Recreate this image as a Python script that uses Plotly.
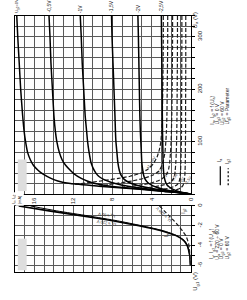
import plotly.graph_objects as go

# ---------------- data ----------------
top_labels = ["U<sub>g1</sub>=0V", "-0,5V", "-1V", "-1,5V", "-2V", "-2,5V"]

# Upper chart: Ia = f(Ua), parameter Ug1 (solid)
ua_a0 = [340, 300, 250, 200, 150, 120, 100, 80, 65, 55, 45, 38, 30, 25, 20, 15, 11, 7, 3, 0]
ia_a0 = [17.8, 17.7, 17.55, 17.4, 17.2, 17.05, 16.9, 16.7, 16.4, 16.1, 15.6, 15.1, 14.3, 13.6, 12.3, 9.4, 6.6, 3.8, 1.3, 0]
ua_a1 = [340, 300, 250, 200, 150, 120, 100, 80, 65, 55, 45, 38, 30, 25, 20, 15, 11, 7, 3, 0]
ia_a1 = [14.5, 14.4, 14.3, 14.15, 14.0, 13.85, 13.7, 13.45, 13.15, 12.8, 12.3, 11.9, 11.2, 10.6, 9.8, 8.2, 6.0, 3.5, 1.2, 0]
ua_a2 = [340, 300, 250, 200, 150, 120, 100, 80, 60, 50, 40, 33, 27, 22, 17, 13, 9, 5, 2, 0]
ia_a2 = [11.3, 11.2, 11.1, 10.95, 10.8, 10.65, 10.55, 10.4, 10.2, 10.0, 9.7, 9.35, 8.8, 8.1, 7.0, 5.7, 4.2, 2.4, 0.9, 0]
ua_a3 = [340, 300, 250, 200, 150, 120, 100, 80, 60, 45, 35, 28, 22, 17, 13, 9, 6, 3, 0]
ia_a3 = [8.1, 8.05, 7.95, 7.85, 7.75, 7.7, 7.65, 7.55, 7.45, 7.3, 7.1, 6.8, 6.3, 5.5, 4.6, 3.5, 2.4, 1.2, 0]
ua_a4 = [340, 300, 250, 200, 150, 120, 100, 80, 60, 45, 35, 28, 22, 17, 13, 9, 6, 3, 0]
ia_a4 = [5.4, 5.35, 5.3, 5.25, 5.2, 5.15, 5.1, 5.05, 5.0, 4.9, 4.8, 4.65, 4.4, 4.0, 3.5, 2.8, 2.0, 1.0, 0]
ua_a5 = [340, 300, 250, 200, 150, 120, 100, 80, 60, 45, 35, 28, 22, 17, 13, 9, 6, 3, 0]
ia_a5 = [3.0, 2.98, 2.95, 2.92, 2.9, 2.88, 2.86, 2.84, 2.82, 2.78, 2.73, 2.65, 2.55, 2.4, 2.15, 1.8, 1.4, 0.8, 0]

# Upper chart: Ig2 = f(Ua), parameter Ug1 (dashed)
ua_g0 = [340, 300, 250, 200, 150, 120, 100, 85, 70, 57, 48, 40, 34, 30, 26, 22, 18]
ig_g0 = [2.8, 2.8, 2.82, 2.85, 2.9, 2.97, 3.05, 3.2, 3.45, 3.85, 4.35, 5.1, 6.2, 7.4, 8.8, 10.4, 12.0]
ua_g1 = [340, 300, 250, 200, 150, 120, 100, 80, 65, 52, 43, 36, 30, 25, 21, 18, 15]
ig_g1 = [2.35, 2.35, 2.37, 2.4, 2.43, 2.48, 2.54, 2.63, 2.78, 3.0, 3.3, 3.9, 4.8, 6.0, 7.4, 8.4, 9.4]
ua_g2 = [340, 300, 250, 200, 150, 120, 100, 80, 60, 48, 40, 34, 29, 25, 21, 18, 15, 13]
ig_g2 = [1.85, 1.85, 1.87, 1.9, 1.93, 1.97, 2.0, 2.06, 2.15, 2.25, 2.4, 2.6, 2.95, 3.4, 4.1, 4.9, 6.1, 7.0]
ua_g3 = [340, 300, 250, 200, 150, 120, 100, 80, 60, 45, 35, 28, 23, 19, 16, 13, 11]
ig_g3 = [1.35, 1.35, 1.36, 1.38, 1.4, 1.42, 1.44, 1.47, 1.52, 1.58, 1.65, 1.8, 2.05, 2.5, 3.1, 4.1, 5.2]
ua_g4 = [340, 300, 250, 200, 150, 120, 100, 80, 60, 45, 35, 27, 21, 17, 14, 11, 9, 7.5]
ig_g4 = [0.9, 0.9, 0.91, 0.92, 0.93, 0.94, 0.95, 0.97, 1.0, 1.03, 1.07, 1.13, 1.25, 1.45, 1.75, 2.2, 2.9, 3.7]
ua_g5 = [340, 300, 250, 200, 150, 120, 100, 80, 60, 45, 35, 27, 21, 16, 12, 9, 6, 4]
ig_g5 = [0.5, 0.5, 0.5, 0.51, 0.52, 0.52, 0.53, 0.54, 0.55, 0.57, 0.6, 0.64, 0.7, 0.8, 1.0, 1.35, 2.0, 2.7]

# labels on the dashed curves: (Ig2 mA, Ua V, text)
g2_label_x = [3.95, 3.14, 2.53, 1.72, 0.91, 0.30]
g2_label_y = [60.4, 45.3, 37.8, 32.1, 28.3, 26.4]
g2_label_t = ["U<sub>g1</sub>=0V", "-0,5V", "-1V", "-1,5V", "-2V", "-2,5V"]

# Lower chart: Ia, Ig2 = f(Ug1)
ug1_vals = [0, -0.5, -1, -1.5, -2, -2.5, -3, -3.5, -4, -5, -6]
ia_ua220 = [17.6, 14.5, 11.1, 8.0, 5.3, 3.0, 1.5, 0.7, 0.35, 0.1, 0.02]
ia_ua60 = [16.4, 13.7, 10.5, 7.5, 5.0, 2.8, 1.4, 0.65, 0.32, 0.09, 0.02]
ig2_ua220 = [3.2, 2.7, 2.2, 1.7, 1.25, 0.85, 0.5, 0.3, 0.17, 0.06, 0.02]

ia_ticks = [16, 12, 8, 4, 0]
ua_ticks = [100, 200, 300]
ug1_ticks = [0, -2, -4, -6]

legend_upper = ["I<sub>a</sub>, I<sub>g2</sub> = f (U<sub>a</sub>)", "U<sub>g3</sub> = 0 V",
                "U<sub>g2</sub> = 60 V", "U<sub>g1</sub> = Parameter"]
legend_lower = ["I<sub>a</sub>, I<sub>g2</sub> = f (U<sub>g1</sub>)", "U<sub>a</sub> = 220 ÷ 60 V",
                "U<sub>g3</sub> = 0 V", "U<sub>g2</sub> = 60 V"]

# ---------------- layout helpers ----------------
W, H = 247, 300
def PX(x):
    return x / W
def PY(y):
    return 1 - y / H

FONT = "Liberation Sans"
INK = "#1c1c1c"
GRID = "#5a5a5a"

fig = go.Figure()

solid = [(ua_a0, ia_a0), (ua_a1, ia_a1), (ua_a2, ia_a2), (ua_a3, ia_a3), (ua_a4, ia_a4), (ua_a5, ia_a5)]
dashed = [(ua_g0, ig_g0), (ua_g1, ig_g1), (ua_g2, ig_g2), (ua_g3, ig_g3), (ua_g4, ig_g4), (ua_g5, ig_g5)]

for ua, ia in dashed:
    fig.add_trace(go.Scatter(x=ia, y=ua, mode="lines", xaxis="x", yaxis="y",
                             line=dict(color=INK, width=1.2, dash="4px,2px", shape="spline", smoothing=0.5)))
for ua, ia in solid:
    fig.add_trace(go.Scatter(x=ia, y=ua, mode="lines", xaxis="x", yaxis="y",
                             line=dict(color="#000", width=1.5, shape="spline", smoothing=0.5)))

fig.add_trace(go.Scatter(x=ia_ua60, y=ug1_vals, mode="lines", xaxis="x2", yaxis="y2",
                         line=dict(color="#000", width=1.0, shape="spline", smoothing=0.5)))
fig.add_trace(go.Scatter(x=ia_ua220, y=ug1_vals, mode="lines", xaxis="x2", yaxis="y2",
                         line=dict(color="#000", width=1.6, shape="spline", smoothing=0.5)))
fig.add_trace(go.Scatter(x=ig2_ua220, y=ug1_vals, mode="lines", xaxis="x2", yaxis="y2",
                         line=dict(color=INK, width=1.2, dash="4px,2px", shape="spline", smoothing=0.5)))

xdom = [PX(15), PX(193)]
axis_common = dict(showline=True, linecolor="#000", linewidth=1.2, mirror=True, zeroline=False,
                   gridcolor=GRID, gridwidth=0.8, showgrid=True,
                   tickfont=dict(family=FONT, size=6, color=INK))

fig.update_layout(
    width=W, height=H, margin=dict(l=0, r=0, t=0, b=0),
    paper_bgcolor="white", plot_bgcolor="white", showlegend=False,
    xaxis=dict(domain=xdom, range=[18, 0], anchor="y", tickvals=ia_ticks,
               ticktext=[str(v) for v in ia_ticks], tickangle=-90, ticks="",
               minor=dict(dtick=1, showgrid=True, gridcolor=GRID, gridwidth=0.8), **axis_common),
    yaxis=dict(domain=[PY(193), PY(13)], range=[0, 340], anchor="x", side="right",
               tickvals=ua_ticks, ticktext=[str(v) for v in ua_ticks], tickangle=-90,
               ticks="outside", ticklen=3, tickcolor="#000",
               minor=dict(dtick=20, showgrid=True, gridcolor=GRID, gridwidth=0.8,
                          ticks="outside", ticklen=3, tickcolor="#000"), **axis_common),
    xaxis2=dict(domain=xdom, range=[18, 0], anchor="y2", showticklabels=False, ticks="",
                dtick=4, minor=dict(dtick=1, showgrid=True, gridcolor=GRID, gridwidth=0.8), **axis_common),
    yaxis2=dict(domain=[PY(272), PY(205)], range=[-6.7, 0], anchor="x2", side="right",
                tickvals=ug1_ticks, ticktext=[str(v) for v in ug1_ticks], tickangle=-90,
                ticks="outside", ticklen=3, tickcolor="#000",
                minor=dict(dtick=1, showgrid=True, gridcolor=GRID, gridwidth=0.8,
                           ticks="outside", ticklen=3, tickcolor="#000"), **axis_common),
)

ann = []
def txt(text, x, y, xref="paper", yref="paper", angle=-90, size=5, xa="center", ya="middle", bg=None):
    d = dict(text=text, x=x, y=y, xref=xref, yref=yref, textangle=angle, showarrow=False,
             xanchor=xa, yanchor=ya, font=dict(family=FONT, size=size, color=INK))
    if bg:
        d["bgcolor"] = bg
    ann.append(d)

# curve labels on top of the upper chart
for i, ((ua, ia), t) in enumerate(zip(solid, top_labels)):
    txt(t, ia[0], PY(12), xref="x", ya="bottom", size=4 if i == 0 else 5)

# dashed curve labels
for x, y, t in zip(g2_label_x, g2_label_y, g2_label_t):
    txt(t, x, y, xref="x", yref="y", angle=-57, size=4)

# lower chart labels
txt("U<sub>a</sub> = 60 V", 8.6, -0.9, xref="x2", yref="y2", angle=-172, size=4)
txt("U<sub>a</sub> = 220 V", 8.6, -1.7, xref="x2", yref="y2", angle=-172, size=4)
txt("U<sub>a</sub> = 220 V", 2.8, -0.8, xref="x2", yref="y2", angle=-135, size=4)
txt("I<sub>g2</sub>", 0.7, -0.5, xref="x2", yref="y2", size=5)
txt("I<sub>a</sub>", 2.5, -3.0, xref="x2", yref="y2", size=5)

# axis titles
txt("U<sub>a</sub> (V)", PX(198), PY(18), size=6)
txt("U<sub>g1</sub> (V)", PX(198), PY(281), size=6)
txt("I<sub>a</sub>, I<sub>g2</sub>", PX(14), PY(205), ya="bottom", size=4, bg="white")
txt("(mA)", PX(20), PY(205), ya="bottom", size=4, bg="white")

# legend text blocks
for i, t in enumerate(legend_upper):
    txt(t, PX(215 + 5 * i), PY(125), ya="bottom", size=5)
for i, t in enumerate(legend_lower):
    txt(t, PX(215 + 5 * i), PY(261), ya="bottom", size=5)
txt("I<sub>a</sub>", PX(223), PY(163), ya="bottom", size=5)
txt("I<sub>g2</sub>", PX(231), PY(165), ya="bottom", size=5)

fig.update_layout(annotations=ann)

shapes = [
    dict(type="line", xref="paper", yref="paper", x0=PX(223), x1=PX(223), y0=PY(184), y1=PY(165),
         line=dict(color="#000", width=1.2)),
    dict(type="line", xref="paper", yref="paper", x0=PX(231), x1=PX(231), y0=PY(184), y1=PY(167),
         line=dict(color="#000", width=1.2, dash="2px,2px")),
    dict(type="line", xref="paper", yref="paper", x0=PX(15), x1=PX(15), y0=PY(205), y1=PY(193),
         line=dict(color="#000", width=1.2)),
    dict(type="rect", xref="paper", yref="paper", x0=PX(18), x1=PX(27), y0=PY(190), y1=PY(158),
         fillcolor="#dedede", line=dict(width=0)),
    dict(type="rect", xref="paper", yref="paper", x0=PX(18), x1=PX(27), y0=PY(270), y1=PY(238),
         fillcolor="#dedede", line=dict(width=0)),
]
fig.update_layout(shapes=shapes)

fig.write_html("out.html")
